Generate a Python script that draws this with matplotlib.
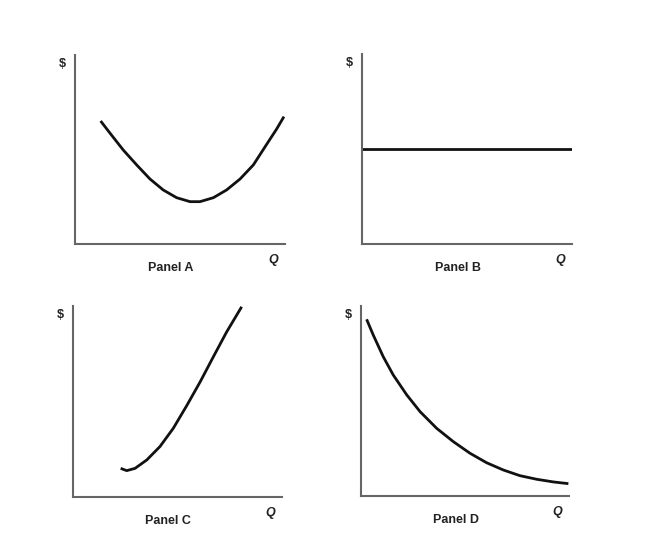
import matplotlib
matplotlib.use('Agg')
import matplotlib.pyplot as plt

plt.rcParams['font.family'] = ['Liberation Sans', 'DejaVu Sans']

# Valeurs (echelle 0-10 sur chaque axe)
a_q = [1.22, 1.67, 2.30, 2.94, 3.57, 4.20, 4.84, 5.48, 5.95, 6.59, 7.22,
       7.86, 8.49, 9.13, 9.60, 9.95]
a_cost = [6.51, 5.86, 4.97, 4.18, 3.44, 2.86, 2.45, 2.24, 2.24, 2.45, 2.86,
          3.44, 4.18, 5.28, 6.08, 6.74]

b_q = [0.0, 10.0]
b_cost = [5.0, 5.0]

c_q = [2.28, 2.57, 2.97, 3.53, 4.16, 4.80, 5.44, 6.08, 6.71, 7.35, 8.07]
c_cost = [1.50, 1.38, 1.50, 1.94, 2.64, 3.60, 4.78, 6.02, 7.33, 8.64, 9.96]

d_q = [0.27, 0.59, 1.07, 1.55, 2.20, 2.84, 3.64, 4.44, 5.24, 6.04, 6.84,
       7.64, 8.45, 9.25, 9.97]
d_cost = [9.30, 8.47, 7.33, 6.37, 5.32, 4.44, 3.56, 2.86, 2.25, 1.75, 1.37,
          1.07, 0.88, 0.74, 0.65]

panels = ['Panel A', 'Panel B', 'Panel C', 'Panel D']
series = [(a_q, a_cost), (b_q, b_cost), (c_q, c_cost), (d_q, d_cost)]

W, H = 650, 534
fig = plt.figure(figsize=(W / 100, H / 100), dpi=100)

# cadres en pixels : gauche, droite, haut, bas
boxes = [(75, 285, 55, 244), (362, 572, 54, 244),
         (73, 282, 306, 497), (361, 569, 306, 496)]

for name, (q, cost), (l, r, t, b) in zip(panels, series, boxes):
    ax = fig.add_axes([l / W, 1 - b / H, (r - l) / W, (b - t) / H])
    ax.plot(q, cost, color='#111111', linewidth=2, solid_capstyle='butt',
            solid_joinstyle='round')
    ax.set_xlim(0, 10)
    ax.set_ylim(0, 10)
    for s in ['top', 'right']:
        ax.spines[s].set_visible(False)
    for s in ['left', 'bottom']:
        ax.spines[s].set_color('#666666')
        ax.spines[s].set_linewidth(1.5)
    ax.set_xticks([])
    ax.set_yticks([])
    ax.patch.set_alpha(0)

    # textes
    fig.text((l - 13) / W, 1 - (t + 9) / H, '$', fontsize=9, fontweight='bold',
             ha='center', va='center', color='#222222')
    fig.text((l + r) / 2 / W - 0.014, 1 - (b + 24) / H, name, fontsize=9,
             fontweight='bold', ha='center', va='center', color='#222222')
    fig.text((r - 12) / W, 1 - (b + 16) / H, 'Q', fontsize=9, fontweight='bold',
             fontstyle='italic', ha='center', va='center', color='#222222')

plt.savefig('out.png', dpi=100)
